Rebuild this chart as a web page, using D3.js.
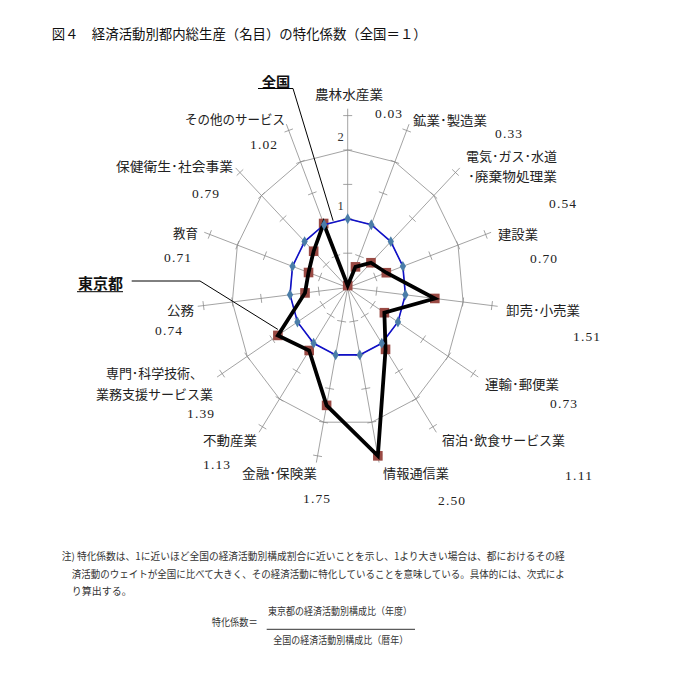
<!DOCTYPE html>
<html lang="ja">
<head>
<meta charset="utf-8">
<script src="https://cdn.jsdelivr.net/npm/d3@7"></script>
<style>
    html, body { margin: 0; padding: 0; background: #ffffff; }
    svg { display: block; }
    .jp { font-family: "Noto Sans CJK JP", "Noto Sans", sans-serif; }
    .num { font-family: "Liberation Serif", "DejaVu Serif", serif; }
</style>
</head>
<body>
<script>
// 経済活動（時計回り、真上から）
const CATEGORIES = [
    ['農林水産業'],
    ['鉱業･製造業'],
    ['電気･ガス･水道', '･廃棄物処理業'],
    ['建設業'],
    ['卸売･小売業'],
    ['運輸･郵便業'],
    ['宿泊･飲食サービス業'],
    ['情報通信業'],
    ['金融･保険業'],
    ['不動産業'],
    ['専門･科学技術、', '業務支援サービス業'],
    ['公務'],
    ['教育'],
    ['保健衛生･社会事業'],
    ['その他のサービス']
];

const TOKYO_VALUES = [0.03, 0.33, 0.54, 0.70, 1.51, 0.73, 1.11, 2.50, 1.75, 1.13, 1.39, 0.74, 0.71, 0.79, 1.02];
const NATIONAL_VALUES = [1, 1, 1, 1, 1, 1, 1, 1, 1, 1, 1, 1, 1, 1, 1];
const GRID_VALUES = [1, 2];
const TICK_VALUES = [0.5, 1, 1.5, 2, 2.5];
const AXIS_LABELS = ['1', '2'];
const AXIS_MAX = 2.6;

// ラベル配置（左端x, 中心y, 幅）
const NAME_LAYOUT = [
    [[315, 93, 68]],
    [[413, 119, 74]],
    [[466, 155, 91], [468, 175, 89]],
    [[498, 233, 40]],
    [[506, 309, 74]],
    [[485, 383, 74]],
    [[442, 439, 123]],
    [[383, 472, 66]],
    [[242, 472, 75]],
    [[203, 439, 54]],
    [[106, 372, 97], [96, 393, 117]],
    [[167, 309, 27]],
    [[173, 232, 25]],
    [[116, 165, 117]],
    [[185, 118, 100]]
];
const VALUE_LAYOUT = [
    [375, 113], [495, 133], [549, 203], [530, 258], [573, 336],
    [550, 403], [565, 475], [438, 500], [303, 498], [203, 464],
    [187, 413], [155, 330], [164, 257], [192, 193], [250, 144]
];

const NOTE_LINES = [
    '注) 特化係数は、1に近いほど全国の経済活動別構成割合に近いことを示し、1より大きい場合は、都におけるその経',
    '済活動のウェイトが全国に比べて大きく、その経済活動に特化していることを意味している。具体的には、次式によ',
    'り算出する。'
];

const width = 682;
const height = 682;
const center = { x: 347.7, y: 287.6 };

const svg = d3.select('body').append('svg')
    .attr('width', width)
    .attr('height', height);

// 横方向は縦方向より縮んでいる（楕円）
const rX = d3.scaleLinear().domain([0, 1]).range([0, 58]);
const rY = d3.scaleLinear().domain([0, 1]).range([0, 68.8]);
const angle = d3.scaleLinear().domain([0, CATEGORIES.length]).range([0, 2 * Math.PI]);

function point(value, index) {
    const a = angle(index);
    return [center.x + rX(value) * Math.sin(a), center.y - rY(value) * Math.cos(a)];
}

const closedLine = d3.line().curve(d3.curveLinearClosed);

svg.append('text')
    .attr('class', 'jp')
    .attr('x', 51.7)
    .attr('y', 32.7)
    .attr('dominant-baseline', 'central')
    .attr('font-size', 13.5)
    .attr('fill', '#111')
    .attr('textLength', 375)
    .attr('lengthAdjust', 'spacingAndGlyphs')
    .text('図４　経済活動別都内総生産（名目）の特化係数（全国＝１）');

const chart = svg.append('g');

// 目盛りの多角形
chart.selectAll('.grid-ring')
    .data(GRID_VALUES)
    .enter()
    .append('path')
    .attr('class', 'grid-ring')
    .attr('d', (value) => closedLine(CATEGORIES.map((_, index) => point(value, index))))
    .attr('fill', 'none')
    .attr('stroke', '#8c8c8c')
    .attr('stroke-width', 0.8);

// 軸線
chart.selectAll('.axis-line')
    .data(CATEGORIES)
    .enter()
    .append('line')
    .attr('class', 'axis-line')
    .attr('x1', center.x)
    .attr('y1', center.y)
    .attr('x2', (_, index) => point(AXIS_MAX, index)[0])
    .attr('y2', (_, index) => point(AXIS_MAX, index)[1])
    .attr('stroke', '#8c8c8c')
    .attr('stroke-width', 0.8);

// 軸の目盛り線
const ticks = CATEGORIES.flatMap((_, index) => TICK_VALUES.map((value) => ({ index, value })));
chart.selectAll('.axis-tick')
    .data(ticks)
    .enter()
    .append('line')
    .attr('class', 'axis-tick')
    .each(function drawTick(tick) {
        const [x, y] = point(tick.value, tick.index);
        const [x0, y0] = point(0, tick.index);
        const length = Math.hypot(x - x0, y - y0);
        const nx = -(y - y0) / length;
        const ny = (x - x0) / length;
        d3.select(this)
            .attr('x1', x - nx * 4.5)
            .attr('y1', y - ny * 4.5)
            .attr('x2', x + nx * 4.5)
            .attr('y2', y + ny * 4.5);
    })
    .attr('stroke', '#8c8c8c')
    .attr('stroke-width', 0.8);

chart.selectAll('.axis-value')
    .data(AXIS_LABELS)
    .enter()
    .append('text')
    .attr('class', 'axis-value num')
    .attr('x', 340.5)
    .attr('y', (label) => point(Number(label), 0)[1] - 13)
    .attr('text-anchor', 'middle')
    .attr('dominant-baseline', 'central')
    .attr('font-size', 12.5)
    .attr('fill', '#333')
    .text((label) => label);

// 東京都のマーカー
chart.selectAll('.tokyo-marker')
    .data(TOKYO_VALUES)
    .enter()
    .append('rect')
    .attr('class', 'tokyo-marker')
    .attr('x', (value, index) => point(value, index)[0] - 4.8)
    .attr('y', (value, index) => point(value, index)[1] - 4.8)
    .attr('width', 9.6)
    .attr('height', 9.6)
    .attr('fill', '#9a4a44');

// 全国の線
chart.append('path')
    .attr('d', closedLine(NATIONAL_VALUES.map((value, index) => point(value, index))))
    .attr('fill', 'none')
    .attr('stroke', '#1010c8')
    .attr('stroke-width', 1.6);

// 東京都の線
chart.append('path')
    .attr('d', closedLine(TOKYO_VALUES.map((value, index) => point(value, index))))
    .attr('fill', 'none')
    .attr('stroke', '#000')
    .attr('stroke-width', 3.8)
    .attr('stroke-linejoin', 'miter');

// 全国のマーカー
chart.selectAll('.national-marker')
    .data(NATIONAL_VALUES)
    .enter()
    .append('path')
    .attr('class', 'national-marker')
    .attr('transform', (value, index) => `translate(${point(value, index)})`)
    .attr('d', d3.symbol(d3.symbolDiamond, 34)())
    .attr('fill', '#4a7da8');

// 項目名
const nameItems = CATEGORIES.flatMap((lines, index) => lines.map((line, lineIndex) => ({
    text: line,
    layout: NAME_LAYOUT[index][lineIndex]
})));
svg.selectAll('.category-name')
    .data(nameItems)
    .enter()
    .append('text')
    .attr('class', 'category-name jp')
    .attr('x', (item) => item.layout[0])
    .attr('y', (item) => item.layout[1])
    .attr('textLength', (item) => item.layout[2])
    .attr('lengthAdjust', 'spacingAndGlyphs')
    .attr('dominant-baseline', 'central')
    .attr('font-size', 13)
    .attr('fill', '#222')
    .text((item) => item.text);

svg.selectAll('.category-value')
    .data(TOKYO_VALUES)
    .enter()
    .append('text')
    .attr('class', 'category-value num')
    .attr('x', (_, index) => VALUE_LAYOUT[index][0])
    .attr('y', (_, index) => VALUE_LAYOUT[index][1])
    .attr('textLength', 27)
    .attr('lengthAdjust', 'spacing')
    .attr('dominant-baseline', 'central')
    .attr('font-size', 13.5)
    .attr('fill', '#222')
    .text((value) => value.toFixed(2));

// 凡例（引き出し線）
const legend = svg.append('g').attr('stroke', '#000').attr('stroke-width', 1);
legend.append('text')
    .attr('class', 'jp')
    .attr('x', 261.7)
    .attr('y', 80.7)
    .attr('textLength', 28.5)
    .attr('lengthAdjust', 'spacingAndGlyphs')
    .attr('dominant-baseline', 'central')
    .attr('font-size', 14)
    .attr('font-weight', 'bold')
    .attr('stroke', 'none')
    .attr('fill', '#111')
    .text('全国');
legend.append('path')
    .attr('fill', 'none')
    .attr('d', `M258,88.5H293L${point(1, 14)[0] + 9},${point(1, 14)[1] - 4}`);

legend.append('text')
    .attr('class', 'jp')
    .attr('x', 78)
    .attr('y', 282.5)
    .attr('textLength', 45)
    .attr('lengthAdjust', 'spacingAndGlyphs')
    .attr('dominant-baseline', 'central')
    .attr('font-size', 14.5)
    .attr('font-weight', 'bold')
    .attr('stroke', 'none')
    .attr('fill', '#111')
    .text('東京都');
legend.append('line')
    .attr('x1', 77).attr('y1', 291.7).attr('x2', 123).attr('y2', 291.7);
legend.append('path')
    .attr('fill', 'none')
    .attr('d', `M131.7,281H200L${point(TOKYO_VALUES[10], 10)[0]},${point(TOKYO_VALUES[10], 10)[1] - 6}`);

// 注記
const noteLayout = [[61.7, 555, 503], [71.7, 573.3, 493], [71.7, 590.7, null]];
svg.selectAll('.note-line')
    .data(NOTE_LINES)
    .enter()
    .append('text')
    .attr('class', 'note-line jp')
    .attr('x', (_, index) => noteLayout[index][0])
    .attr('y', (_, index) => noteLayout[index][1])
    .attr('textLength', (_, index) => noteLayout[index][2])
    .attr('lengthAdjust', 'spacingAndGlyphs')
    .attr('dominant-baseline', 'central')
    .attr('font-size', 10)
    .attr('fill', '#333')
    .text((line) => line);

const formula = svg.append('g').attr('class', 'jp').attr('font-size', 10).attr('fill', '#333');
formula.append('text')
    .attr('x', 211.7).attr('y', 621.7)
    .attr('textLength', 46).attr('lengthAdjust', 'spacingAndGlyphs')
    .attr('dominant-baseline', 'central')
    .text('特化係数＝');
formula.append('text')
    .attr('x', 268).attr('y', 610.7)
    .attr('textLength', 144).attr('lengthAdjust', 'spacingAndGlyphs')
    .attr('dominant-baseline', 'central')
    .text('東京都の経済活動別構成比（年度）');
formula.append('line')
    .attr('x1', 266.7).attr('y1', 629.3).attr('x2', 415).attr('y2', 629.3)
    .attr('stroke', '#333').attr('stroke-width', 1);
formula.append('text')
    .attr('x', 273.3).attr('y', 639.7)
    .attr('textLength', 135).attr('lengthAdjust', 'spacingAndGlyphs')
    .attr('dominant-baseline', 'central')
    .text('全国の経済活動別構成比（暦年）');
</script>
</body>
</html>
